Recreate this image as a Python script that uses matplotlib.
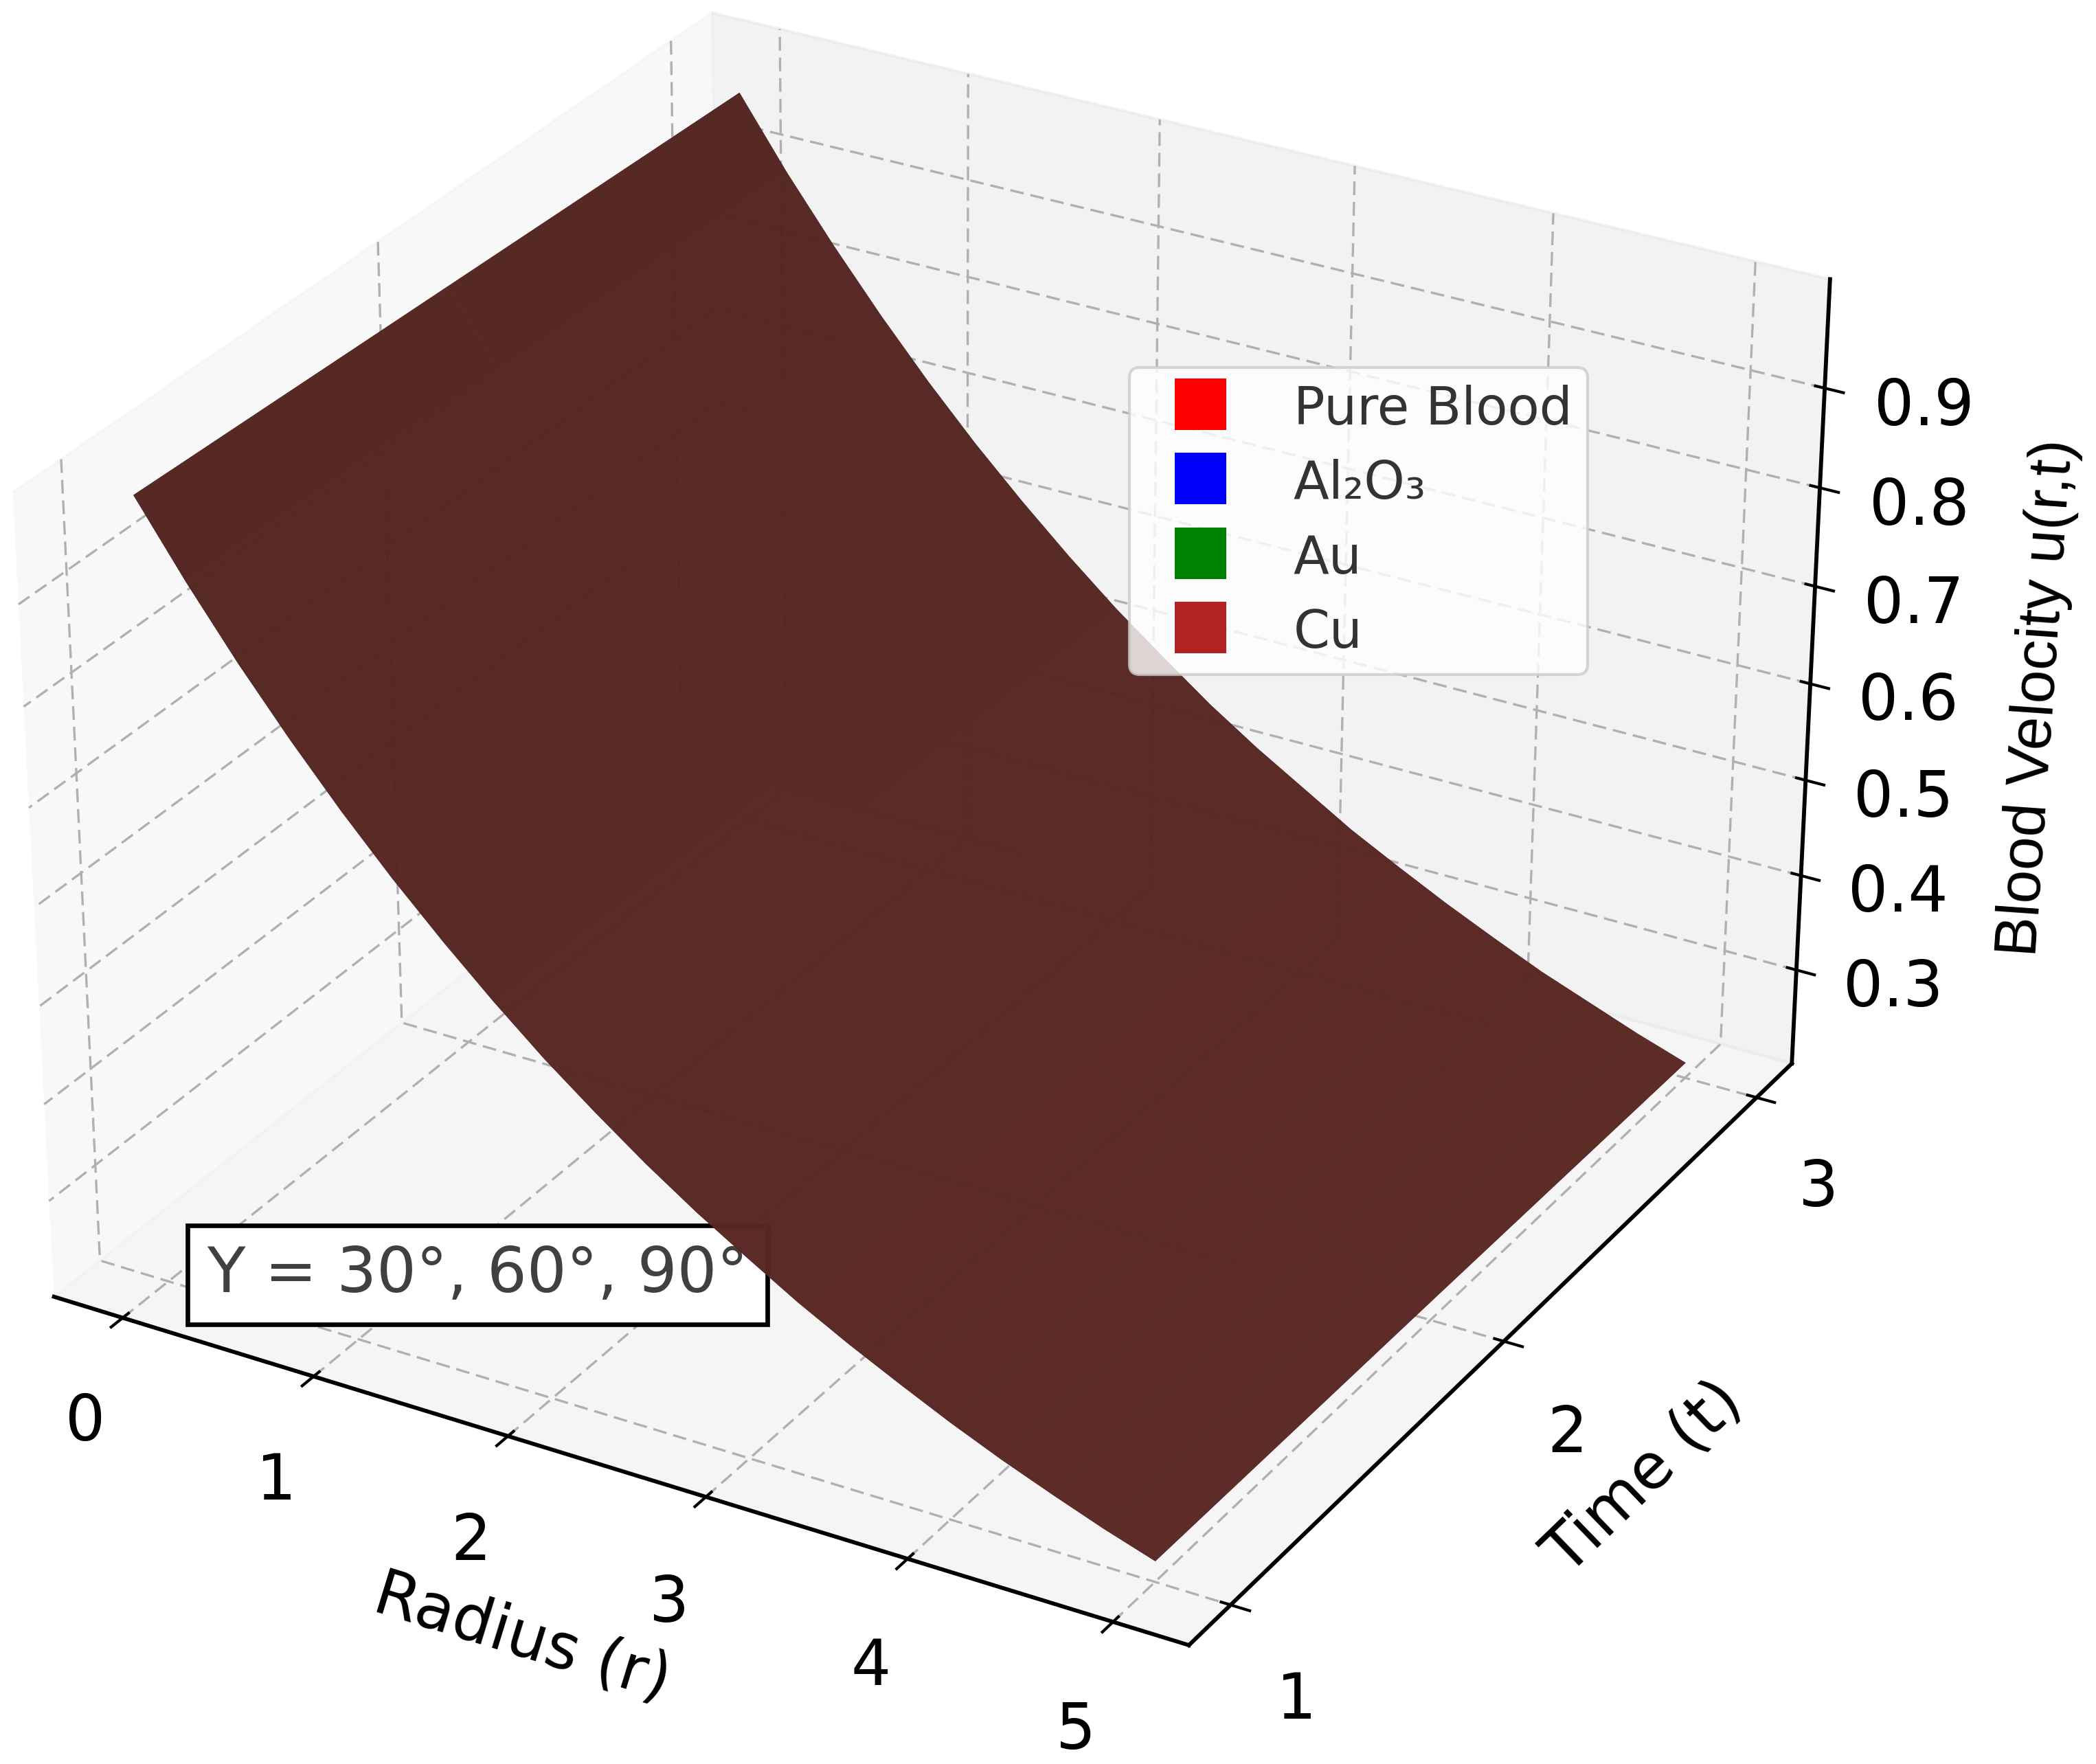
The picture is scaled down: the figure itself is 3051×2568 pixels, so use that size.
import matplotlib
matplotlib.use("Agg")
import matplotlib.pyplot as plt
import numpy as np
from matplotlib.lines import Line2D

# Data
radius = [0.0, 0.25, 0.5, 0.75, 1.0, 1.25, 1.5, 1.75, 2.0, 2.25, 2.5, 2.75, 3.0, 3.25, 3.5, 3.75, 4.0, 4.25, 4.5, 4.75, 5.0]
time = [1.0, 2.0, 3.0]
u_t1 = [0.992, 0.921, 0.855, 0.794, 0.737, 0.684, 0.635, 0.589, 0.546, 0.507, 0.470, 0.436, 0.405, 0.375, 0.348, 0.323, 0.299, 0.277, 0.257, 0.238, 0.221]
u_t2 = [0.982, 0.912, 0.846, 0.786, 0.730, 0.677, 0.629, 0.583, 0.540, 0.502, 0.465, 0.432, 0.401, 0.371, 0.344, 0.320, 0.296, 0.274, 0.254, 0.236, 0.219]
u_t3 = [0.972, 0.902, 0.838, 0.778, 0.722, 0.670, 0.622, 0.577, 0.535, 0.497, 0.460, 0.427, 0.397, 0.367, 0.341, 0.316, 0.293, 0.271, 0.252, 0.233, 0.216]
series_names = ["Pure Blood", "Al₂O₃", "Au", "Cu"]
series_colors = ["red", "blue", "green", "firebrick"]
z_ticks = [0.3, 0.4, 0.5, 0.6, 0.7, 0.8, 0.9]

plt.rcParams["font.size"] = 22
plt.rcParams["grid.linestyle"] = (0, (6, 3))
plt.rcParams["grid.linewidth"] = 0.8
plt.rcParams["axes.linewidth"] = 1.4
plt.rcParams["xtick.major.width"] = 1.0
plt.rcParams["ytick.major.width"] = 1.0

W, H = 3051, 2568
fig = plt.figure(figsize=(W / 300, H / 300), dpi=300)

# reference is wider than a square 3d box, so size the axes by hand
box_w, box_h = 2941, 2765
cx, cy = 1327, 1187
ax = fig.add_axes([(cx - box_w / 2) / W, 1 - (cy + box_h / 2) / H, box_w / W, box_h / H],
                  projection="3d", computed_zorder=False)
ax.apply_aspect = lambda position=None: None  # keep the stretched box
ax.patch.set_alpha(0)

R, T = np.meshgrid(radius, time)
Z = np.array([u_t1, u_t2, u_t3])
for i, col in enumerate(series_colors):
    ax.plot_surface(R, T, Z, color=col, alpha=0.6, zorder=3 + i, linewidth=0)

ax.set_xticks([0, 1, 2, 3, 4, 5])
ax.set_yticks([1, 2, 3])
ax.set_zticks(z_ticks)
ax.set_xlabel("Radius (r)", labelpad=23)
ax.set_ylabel("Time (t)", labelpad=23)
ax.tick_params(axis="x", pad=11.5)
ax.tick_params(axis="y", pad=12)
ax.tick_params(axis="z", pad=12.5)

# z label by hand, it is narrower than the other labels
ax.text2D(0.9725, 0.6045, "Blood Velocity u(r,t)", transform=fig.transFigure, fontsize=21, rotation=86,
          family=["Liberation Sans"], ha="center", va="center", rotation_mode="anchor")

ax.text2D(0.0988, 0.2675, "Y = 30°, 60°, 90°", transform=fig.transFigure, fontsize=21.8,
          alpha=0.75, zorder=1,
          bbox=dict(boxstyle="square,pad=0.31", facecolor="white", edgecolor="black", linewidth=1.6))

handles = [Line2D([], [], linestyle="", marker="s", markersize=18, markeredgewidth=0, color=c, label=n)
           for c, n in zip(series_colors, series_names)]
leg = fig.legend(handles=handles, loc="upper left", bbox_to_anchor=(0.5388, 0.7917), borderaxespad=0,
                 fontsize=18.2, borderpad=0.3, handlelength=2.13, handleheight=1.0, handletextpad=0.72,
                 labelspacing=0.43, labelcolor="#333333")
leg.get_frame().set_linewidth(1.0)

fig.savefig("out.png", dpi=300)
